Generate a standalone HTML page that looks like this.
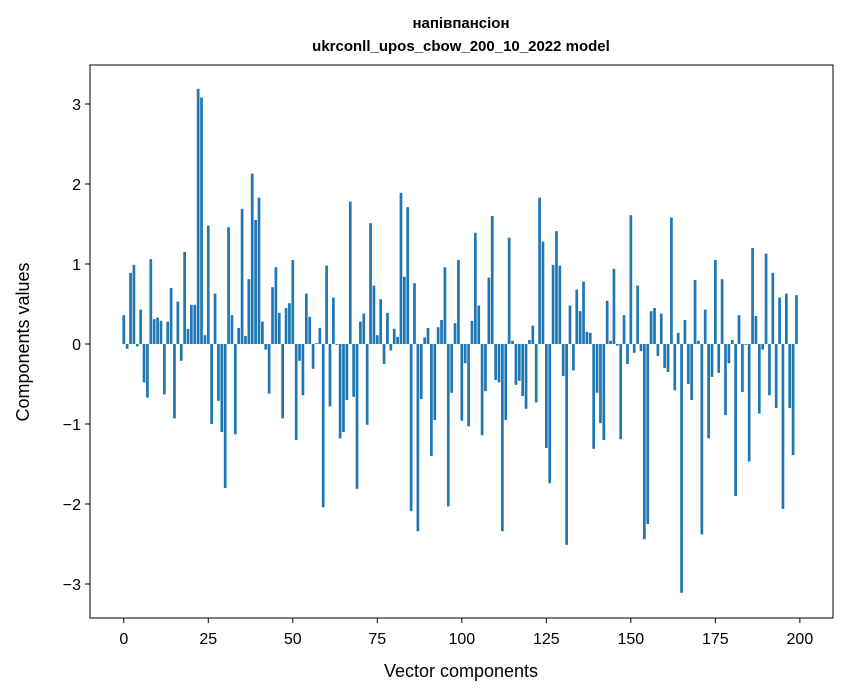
<!DOCTYPE html>
<html><head><meta charset="utf-8"><style>
body{margin:0;background:#fff;}
svg{display:block;font-family:"Liberation Sans","DejaVu Sans",sans-serif;}
</style></head><body>
<svg id="chart" width="847" height="696">
<text x="461" y="28" text-anchor="middle" font-size="15" font-weight="bold">напівпансіон</text>
<text x="461" y="51" text-anchor="middle" font-size="15" font-weight="bold">ukrconll_upos_cbow_200_10_2022 model</text>
<g id="bars"></g>
<g id="xticks"></g>
<g id="yticks"></g>
<rect x="90" y="65" width="743" height="553" fill="none" stroke="#000" stroke-width="1"/>
<text x="461" y="677" text-anchor="middle" font-size="18">Vector components</text>
<text transform="translate(29,342) rotate(-90)" text-anchor="middle" font-size="18">Components values</text>
</svg>
<script>
const componentValues = [0.36,-0.06,0.89,0.99,-0.03,0.43,-0.48,-0.67,1.06,0.31,
0.33,0.29,-0.63,0.28,0.70,-0.93,0.53,-0.21,1.15,0.19,
0.49,0.49,3.19,3.08,0.11,1.48,-1.0,0.63,-0.71,-1.10,
-1.80,1.46,0.36,-1.13,0.2,1.69,0.1,0.81,2.13,1.55,
1.83,0.28,-0.07,-0.62,0.71,0.96,0.39,-0.93,0.45,0.51,
1.05,-1.20,-0.21,-0.64,0.63,0.34,-0.31,0.01,0.2,-2.04,
0.98,-0.78,0.58,-0.01,-1.18,-1.10,-0.70,1.78,-0.66,-1.81,
0.28,0.38,-1.01,1.51,0.73,0.11,0.56,-0.25,0.39,-0.08,
0.19,0.09,1.89,0.84,1.71,-2.09,0.76,-2.34,-0.69,0.08,
0.2,-1.4,-0.95,0.21,0.3,0.96,-2.03,-0.61,0.26,1.05,
-0.96,-0.24,-1.03,0.29,1.39,0.48,-1.14,-0.59,0.83,1.6,
-0.45,-0.48,-2.34,-0.95,1.33,0.04,-0.51,-0.46,-0.65,-0.81,
0.05,0.23,-0.73,1.83,1.28,-1.3,-1.74,0.99,1.41,0.98,
-0.4,-2.51,0.48,-0.33,0.68,0.41,0.78,0.15,0.14,-1.31,
-0.61,-0.99,-1.2,0.54,0.04,0.94,-0.02,-1.19,0.36,-0.25,
1.61,-0.11,0.73,-0.09,-2.44,-2.25,0.41,0.45,-0.15,0.38,
-0.3,-0.35,1.58,-0.58,0.14,-3.11,0.3,-0.5,-0.7,0.8,
0.04,-2.38,0.43,-1.18,-0.41,1.05,-0.36,0.81,-0.89,-0.24,
0.05,-1.9,0.36,-0.6,-0.01,-1.47,1.2,0.35,-0.87,-0.07,
1.13,-0.64,0.89,-0.8,0.58,-2.06,0.63,-0.8,-1.39,0.61];
const xTickLabels = [0,25,50,75,100,125,150,175,200];
const yTickLabels = [-3,-2,-1,0,1,2,3];

const L=90,R=833,T=65,B=618;
const xMin=-9.99,xMax=209.8;
const yMin=-3.425,yMax=3.4875;
const xs=v=>L+(v-xMin)/(xMax-xMin)*(R-L);
const ys=v=>B-(v-yMin)/(yMax-yMin)*(B-T);
const NS='http://www.w3.org/2000/svg';
const bars=document.getElementById('bars');
componentValues.forEach((v,i)=>{
  const r=document.createElementNS(NS,'rect');
  const x0=xs(i-0.4),x1=xs(i+0.4);
  const y0=ys(Math.max(v,0)),y1=ys(Math.min(v,0));
  r.setAttribute('x',x0);r.setAttribute('width',x1-x0);
  r.setAttribute('y',y0);r.setAttribute('height',Math.max(y1-y0,0.3));
  r.setAttribute('fill','#1f77b4');
  
  
  bars.appendChild(r);
});
const xt=document.getElementById('xticks');
xTickLabels.forEach(t=>{
  const x=xs(t);
  const l=document.createElementNS(NS,'line');
  l.setAttribute('x1',x);l.setAttribute('x2',x);l.setAttribute('y1',B);l.setAttribute('y2',B+5);
  l.setAttribute('stroke','#000');
  
  
  xt.appendChild(l);
  const tx=document.createElementNS(NS,'text');
  tx.setAttribute('x',x);tx.setAttribute('y',B+26);tx.setAttribute('text-anchor','middle');tx.setAttribute('font-size','16');
  tx.textContent=t;
  
  
  xt.appendChild(tx);
});
const yt=document.getElementById('yticks');
yTickLabels.forEach(t=>{
  const y=ys(t);
  const l=document.createElementNS(NS,'line');
  l.setAttribute('x1',L-5);l.setAttribute('x2',L);l.setAttribute('y1',y);l.setAttribute('y2',y);
  l.setAttribute('stroke','#000');
  
  
  yt.appendChild(l);
  const tx=document.createElementNS(NS,'text');
  tx.setAttribute('x',L-9);tx.setAttribute('y',y+6);tx.setAttribute('text-anchor','end');tx.setAttribute('font-size','16');
  tx.textContent=t<0?'\u2212'+Math.abs(t):String(t);
  
  
  yt.appendChild(tx);
});
</script>
</body></html>
